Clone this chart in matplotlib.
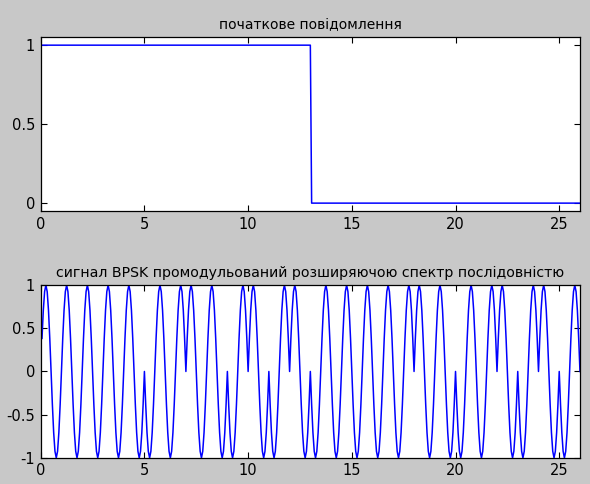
import numpy as np
import matplotlib
matplotlib.use("Agg")
import matplotlib.pyplot as plt

plt.rcParams['font.family'] = ['DejaVu Sans']
plt.rcParams['font.size'] = 10

# message bits and the 13-chip Barker spreading code
message_bits = [1, 0]
barker_code = [1, 1, 1, 1, 1, -1, -1, 1, 1, -1, 1, -1, 1]
samples_per_chip = 16
carrier_freq = 1.0

title_top = 'початкове повідомлення'
title_bottom = 'сигнал BPSK промодульований розширяючою спектр послідовністю'

top_yticks = [0, 0.5, 1]
bottom_yticks = [-1, -0.5, 0, 0.5, 1]
xticks = [0, 5, 10, 15, 20, 25]

# build the sampled signals
n_chips = len(barker_code) * len(message_bits)
k = np.arange(1, n_chips * samples_per_chip + 1)
t = k / samples_per_chip
chip_idx = np.ceil(k / samples_per_chip).astype(int) - 1
bit_idx = chip_idx // len(barker_code)

bits = np.array(message_bits)
msg = bits[bit_idx]
bipolar = 2 * bits - 1
spread = bipolar[bit_idx] * np.array(barker_code)[chip_idx % len(barker_code)]
bpsk = spread * np.sin(2 * np.pi * carrier_freq * t)

t_msg = np.concatenate([[0], t])
msg = np.concatenate([[msg[0]], msg])

fig = plt.figure(figsize=(5.9, 4.84), dpi=100, facecolor='#c8c8c8')
ax1 = fig.add_axes([0.069, 0.564, 0.914, 0.359])
ax2 = fig.add_axes([0.069, 0.054, 0.914, 0.357])

ax1.plot(t_msg, msg, color='blue', lw=1.1)
ax1.set_xlim(0, n_chips)
ax1.set_ylim(-0.05, 1.05)
ax1.set_yticks(top_yticks)
ax1.set_yticklabels(['0', '0.5', '1'])
ax1.set_title(title_top, fontsize=10, pad=6)

ax2.plot(t, bpsk, color='blue', lw=1.1)
ax2.set_xlim(0, n_chips)
ax2.set_ylim(-1, 1)
ax2.set_yticks(bottom_yticks)
ax2.set_yticklabels(['-1', '-0.5', '0', '0.5', '1'])
ax2.set_title(title_bottom, fontsize=10.2, pad=6)

for ax in (ax1, ax2):
    ax.set_facecolor('white')
    ax.set_xticks(xticks)
    ax.tick_params(direction='in', top=True, right=True, length=4,
                   width=0.8, labelsize=10.5, pad=4)
    for sp in ax.spines.values():
        sp.set_linewidth(0.9)

fig.savefig('out.png', dpi=100, facecolor=fig.get_facecolor())
